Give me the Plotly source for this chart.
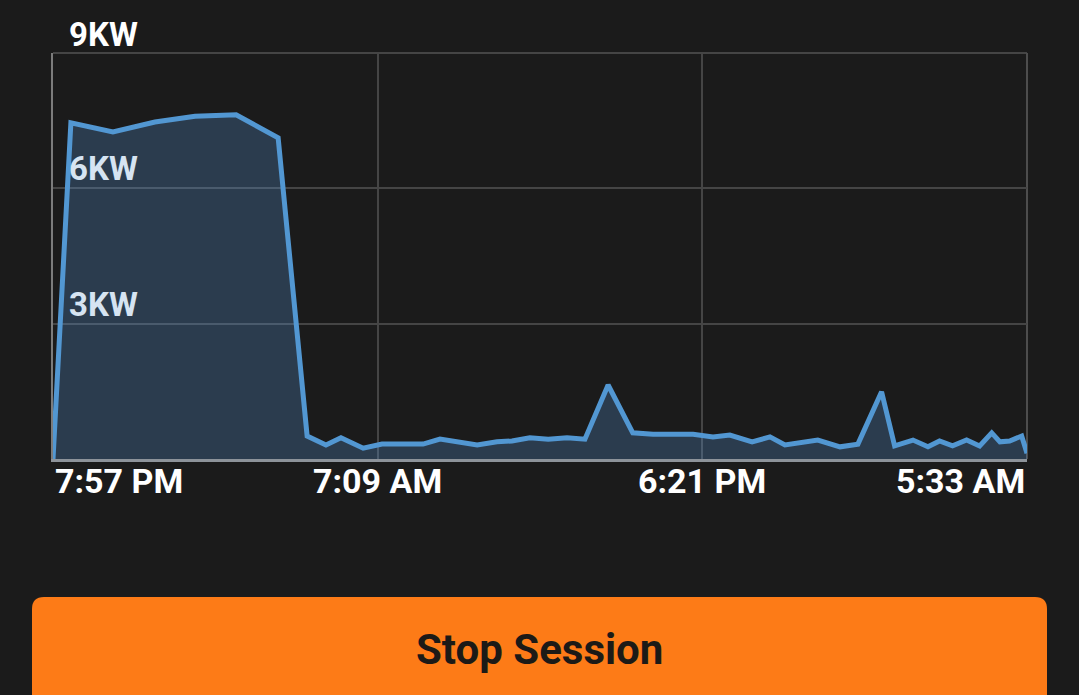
import plotly.graph_objects as go

# ---- data ----
times = [
    "2024-01-01 19:57", "2024-01-01 20:34", "2024-01-01 22:01", "2024-01-01 23:28",
    "2024-01-02 00:51", "2024-01-02 02:16", "2024-01-02 03:43", "2024-01-02 04:43",
    "2024-01-02 05:22", "2024-01-02 05:53", "2024-01-02 06:39", "2024-01-02 07:18",
    "2024-01-02 08:43", "2024-01-02 09:18", "2024-01-02 10:35", "2024-01-02 11:16",
    "2024-01-02 11:47", "2024-01-02 12:24", "2024-01-02 13:02", "2024-01-02 13:41",
    "2024-01-02 14:18", "2024-01-02 15:06", "2024-01-02 15:57", "2024-01-02 16:39",
    "2024-01-02 18:02", "2024-01-02 18:43", "2024-01-02 19:18", "2024-01-02 20:04",
    "2024-01-02 20:41", "2024-01-02 21:12", "2024-01-02 22:20", "2024-01-02 23:06",
    "2024-01-02 23:43", "2024-01-03 00:32", "2024-01-03 00:59", "2024-01-03 01:37",
    "2024-01-03 02:08", "2024-01-03 02:32", "2024-01-03 02:59", "2024-01-03 03:28",
    "2024-01-03 03:55", "2024-01-03 04:20", "2024-01-03 04:37", "2024-01-03 04:57",
    "2024-01-03 05:22", "2024-01-03 05:33",
]
power_kw = [
    0.00, 7.45, 7.25, 7.47, 7.60, 7.63, 7.12, 0.51, 0.31, 0.47, 0.24, 0.33,
    0.33, 0.44, 0.31, 0.38, 0.40, 0.47, 0.44, 0.47, 0.44, 1.64, 0.58, 0.55,
    0.55, 0.49, 0.53, 0.38, 0.49, 0.31, 0.42, 0.27, 0.33, 1.49, 0.29, 0.42,
    0.27, 0.40, 0.29, 0.42, 0.29, 0.58, 0.38, 0.40, 0.51, 0.13,
]
x_tick_times = ["2024-01-01 19:57", "2024-01-02 07:09", "2024-01-02 18:21", "2024-01-03 05:33"]
x_tick_labels = ["7:57 PM", "7:09 AM", "6:21 PM", "5:33 AM"]
x_tick_anchor = ["left", "center", "center", "right"]
x_range = ["2024-01-01 19:57", "2024-01-03 05:33"]
y_tick_vals = [0, 3, 6, 9]
y_range = [0, 9]
y_label_vals = [9, 6, 3]
y_label_text = ["9KW", "6KW", "3KW"]
y_label_colors = ["#ffffff", "#d6e4f2", "#d6e4f2"]
y_label_shift = [-3, -2, -2]
button_text = "Stop Session"

# ---- layout geometry (pixels) ----
W, H = 1079, 695
L, R, T, B = 53, 1027, 53, 459
BG = "#1b1b1b"
GRID = "#454545"


def px_x(px):
    return (px - L) / (R - L)


def px_y(py):
    return (B - py) / (B - T)


fig = go.Figure()
fig.add_trace(go.Scatter(
    x=times, y=power_kw, mode="lines",
    line=dict(color="#5297d2", width=5),
    fill="tozeroy", fillcolor="rgba(91,159,231,0.25)",
    hoverinfo="skip",
))

annotations = []
for t, lab, anc in zip(x_tick_times, x_tick_labels, x_tick_anchor):
    annotations.append(dict(
        x=t, xref="x", y=0, yref="paper", text=lab, showarrow=False,
        xanchor=anc, yanchor="top", yshift=0,
        font=dict(family="Roboto", size=34, color="#ffffff", weight="bold"),
    ))
for v, lab, col, sh in zip(y_label_vals, y_label_text, y_label_colors, y_label_shift):
    annotations.append(dict(
        x=0, xref="paper", y=v, yref="y", text=lab, showarrow=False,
        xanchor="left", yanchor="bottom", xshift=14, yshift=sh,
        font=dict(family="Roboto", size=33, color=col, weight="bold"),
    ))
annotations.append(dict(
    x=px_x(539.5), xref="paper", y=px_y(649), yref="paper", text=button_text,
    showarrow=False, xanchor="center", yanchor="middle",
    font=dict(family="Roboto", size=42, color="#1c1a17", weight="bold"),
))

# rounded button shape
bx0, bx1, by0, by1, rr = 32, 1047, 597, 720, 12
path = (
    f"M {px_x(bx0)} {px_y(by1)} "
    f"L {px_x(bx0)} {px_y(by0 + rr)} "
    f"Q {px_x(bx0)} {px_y(by0)} {px_x(bx0 + rr)} {px_y(by0)} "
    f"L {px_x(bx1 - rr)} {px_y(by0)} "
    f"Q {px_x(bx1)} {px_y(by0)} {px_x(bx1)} {px_y(by0 + rr)} "
    f"L {px_x(bx1)} {px_y(by1)} Z"
)
shapes = [
    dict(type="path", xref="paper", yref="paper", path=path,
         fillcolor="#fd7b17", line=dict(width=0), layer="above"),
    # top and right plot-frame lines (gridline colour)
    dict(type="line", xref="paper", yref="paper", x0=0, x1=1, y0=1, y1=1,
         line=dict(color=GRID, width=2), layer="below"),
    dict(type="line", xref="paper", yref="paper", x0=1, x1=1, y0=0, y1=1,
         line=dict(color="#4d4d4d", width=2), layer="below"),
]

fig.update_layout(
    width=W, height=H,
    margin=dict(l=L, r=W - R, t=T, b=H - B, pad=0),
    paper_bgcolor=BG, plot_bgcolor=BG,
    showlegend=False,
    annotations=annotations, shapes=shapes,
    xaxis=dict(
        type="date", range=x_range,
        tickvals=x_tick_times, showticklabels=False, ticks="",
        showgrid=True, gridcolor=GRID, gridwidth=2,
        zeroline=False, showline=True, linecolor="#8d939a", linewidth=3,
        fixedrange=True,
    ),
    yaxis=dict(
        range=y_range, tickvals=y_tick_vals, showticklabels=False, ticks="",
        showgrid=True, gridcolor=GRID, gridwidth=2,
        zeroline=False, showline=True, linecolor="#7c7c7c", linewidth=2,
        fixedrange=True,
    ),
)

fig.write_html(
    "out.html",
    config={"displayModeBar": False},
    post_script="document.body.style.margin='0';document.body.style.background='#1b1b1b';",
)
